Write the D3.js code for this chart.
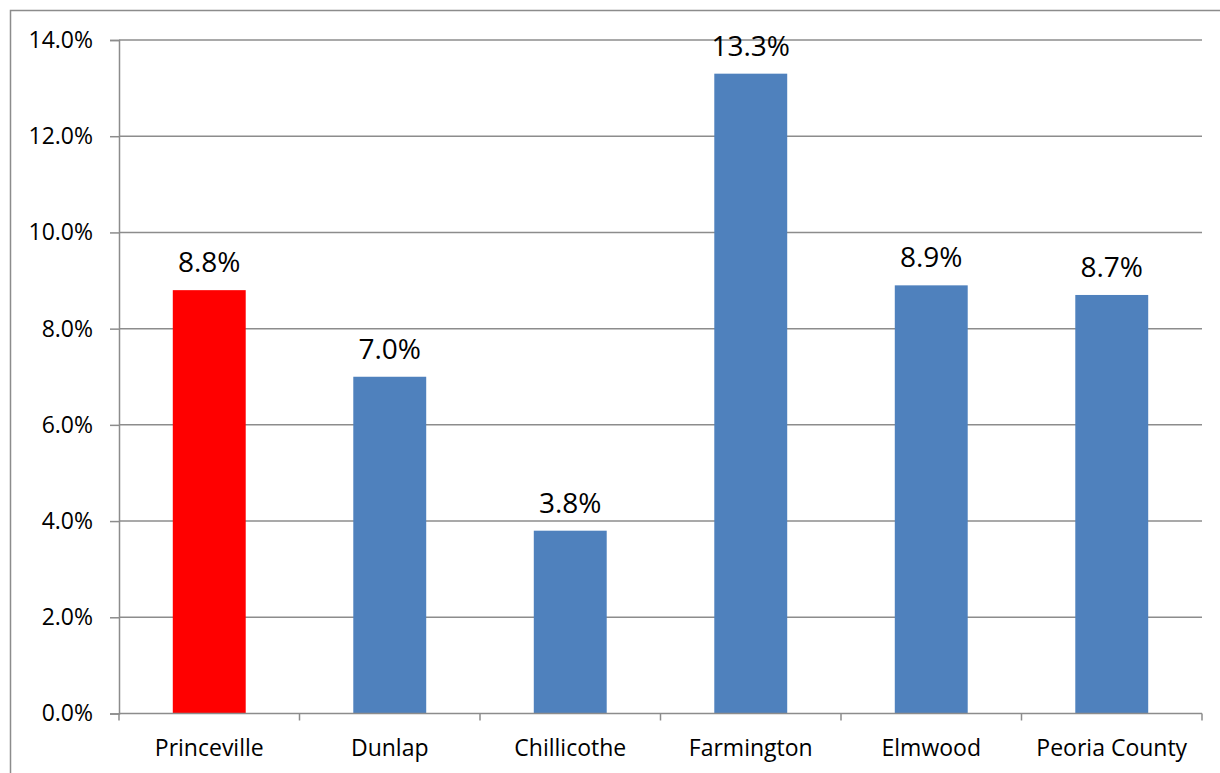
<!DOCTYPE html>
<html><head><meta charset="utf-8">
<script src="https://d3js.org/d3.v7.min.js"></script>
<style>body{margin:0;background:#fff}svg{display:block}</style>
</head><body>
<svg id="c" width="1220" height="773"></svg>
<script>
const categories = ["Princeville","Dunlap","Chillicothe","Farmington","Elmwood","Peoria County"];
const values = [8.8, 7.0, 3.8, 13.3, 8.9, 8.7];
const barColors = ["#ff0000","#4f81bd","#4f81bd","#4f81bd","#4f81bd","#4f81bd"];
const yTicks = [0,2,4,6,8,10,12,14];

const svg = d3.select("#c");
const font = "'Open Sans', sans-serif";
const m = {left:119, top:40, right:1202, bottom:713.5};

svg.append("rect").attr("x",10.5).attr("y",10.5).attr("width",1230).attr("height",800)
  .attr("fill","none").attr("stroke","#8c8c8c").attr("stroke-width",1.5);

const x = d3.scaleBand().domain(categories).range([m.left,m.right]).paddingInner(0.596).paddingOuter(0.298);
const xb = d3.scaleBand().domain(categories).range([m.left,m.right]);
const y = d3.scaleLinear().domain([0,14]).range([m.bottom,m.top]);

// gridlines
svg.append("g").selectAll("line").data(yTicks.filter(d=>d>0)).join("line")
  .attr("x1",m.left).attr("x2",m.right).attr("y1",d=>y(d)).attr("y2",d=>y(d))
  .attr("stroke","#8c8c8c").attr("stroke-width",1.5);

// bars
svg.append("g").selectAll("rect").data(values).join("rect")
  .attr("x",(d,i)=>x(categories[i])).attr("width",x.bandwidth())
  .attr("y",d=>y(d)).attr("height",d=>y(0)-y(d))
  .attr("fill",(d,i)=>barColors[i]);

// y axis
const ya = svg.append("g").attr("transform",`translate(${m.left},0)`)
  .call(d3.axisLeft(y).tickValues(yTicks).tickFormat(d=>d.toFixed(1)+"%").tickSize(9).tickPadding(17));
ya.select(".domain").attr("stroke","#8c8c8c").attr("stroke-width",1.5);
ya.selectAll(".tick line").attr("stroke","#8c8c8c").attr("stroke-width",1.5);
ya.selectAll("text").attr("font-family",font).attr("font-size",23).attr("fill","#000");

// x axis
const xa = svg.append("g").attr("transform",`translate(0,${m.bottom})`)
  .call(d3.axisBottom(xb).tickSize(0).tickPadding(26));
xa.select(".domain").remove();
xa.append("line").attr("x1",m.left).attr("x2",m.right).attr("stroke","#8c8c8c").attr("stroke-width",1.5);
xa.selectAll("text").attr("font-family",font).attr("font-size",23).attr("fill","#000");
const bounds = categories.map(c=>xb(c)).concat([m.right]);
xa.append("g").selectAll("line").data(bounds).join("line")
  .attr("x1",d=>d).attr("x2",d=>d).attr("y1",0).attr("y2",7)
  .attr("stroke","#8c8c8c").attr("stroke-width",1.5);

// data labels
svg.append("g").selectAll("text").data(values).join("text")
  .attr("x",(d,i)=>x(categories[i])+x.bandwidth()/2).attr("y",d=>y(d)-18)
  .attr("text-anchor","middle").attr("font-family",font).attr("font-size",28).attr("fill","#000")
  .text(d=>d.toFixed(1)+"%");
</script>
</body></html>
